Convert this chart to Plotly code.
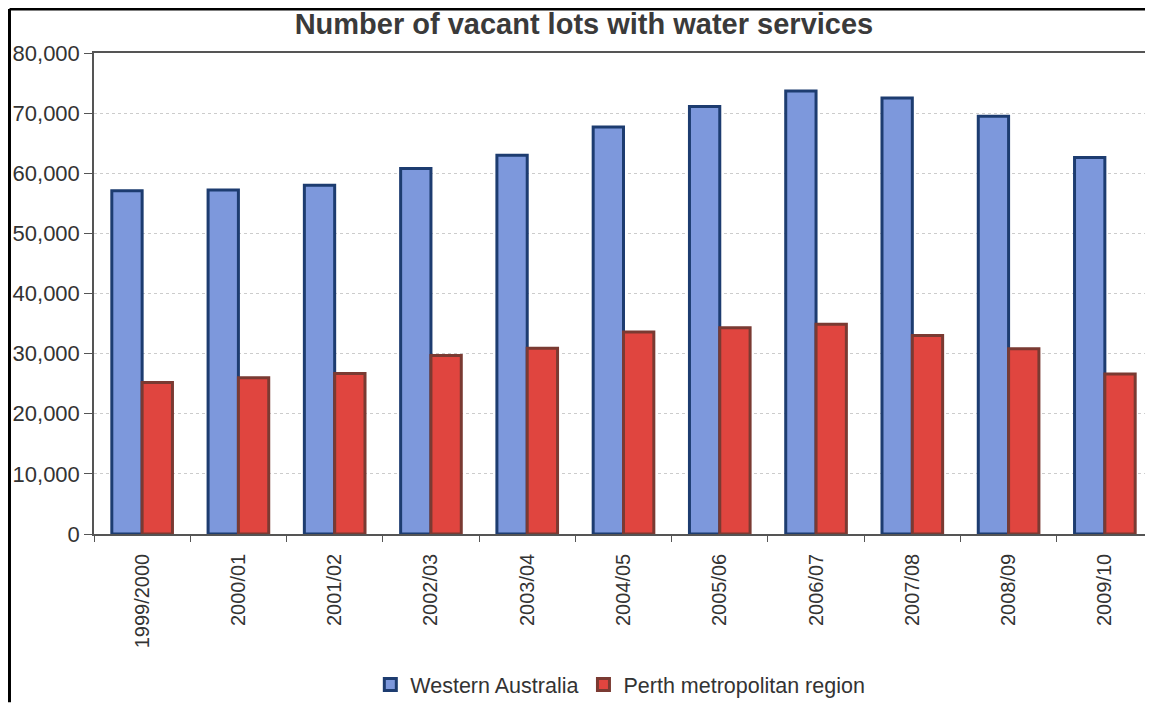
import plotly.graph_objects as go

categories = ["1999/2000", "2000/01", "2001/02", "2002/03", "2003/04", "2004/05",
              "2005/06", "2006/07", "2007/08", "2008/09", "2009/10"]
western_australia = [57100, 57200, 58000, 60800, 63000, 67700, 71100, 73700, 72500, 69500, 62600]
perth_metro = [25200, 26000, 26700, 29700, 30900, 33600, 34300, 34900, 33000, 30800, 26600]
y_ticks = [0, 10000, 20000, 30000, 40000, 50000, 60000, 70000, 80000]

FONT = "Liberation Sans, Arial, sans-serif"

fig = go.Figure()
fig.add_trace(go.Bar(
    x=categories, y=western_australia, name="Western Australia",
    marker=dict(color="#7d98dc", line=dict(color="#1d3c70", width=3)),
))
fig.add_trace(go.Bar(
    x=categories, y=perth_metro, name="Perth metropolitan region",
    marker=dict(color="#e0453f", line=dict(color="#7a3a32", width=3)),
))

fig.update_layout(
    width=1145, height=697,
    margin=dict(l=86, r=0, t=45, b=164),
    paper_bgcolor="white", plot_bgcolor="white",
    barmode="group", bargap=0.37, bargroupgap=0,
    font=dict(family=FONT, color="#333333"),
    title=dict(text="<b>Number of vacant lots with water services</b>",
               x=0.503, xanchor="center", y=0.977, yanchor="middle",
               font=dict(size=29, color="#3a3a3a", family=FONT)),
    legend=dict(orientation="h", x=0.497, xanchor="center", y=-0.313, yanchor="middle",
                font=dict(size=21.5, color="#333333"), itemwidth=30,
                bgcolor="rgba(0,0,0,0)"),
    showlegend=True,
)

fig.update_xaxes(
    showline=True, linecolor="#555555", linewidth=1.5, mirror=True,
    ticks="outside", ticklen=6, tickcolor="#555555", tickson="boundaries",
    tickangle=-90, tickfont=dict(size=20, color="#333333"),
    showgrid=False, ticklabelstandoff=10,
)
fig.update_yaxes(
    range=[0, 80000], tickvals=y_ticks, tickformat=",",
    showline=True, linecolor="#555555", linewidth=1.5,
    ticks="outside", ticklen=8, tickcolor="#555555",
    tickfont=dict(size=22, color="#333333"),
    showgrid=True, gridcolor="#cccccc", griddash="dot", gridwidth=1,
    zeroline=False,
)

# outer frame (top and left edges visible)
fig.add_shape(type="line", xref="paper", yref="paper",
              x0=-0.0798, x1=1.01, y0=1.0915, y1=1.0915,
              line=dict(color="black", width=3))
fig.add_shape(type="line", xref="paper", yref="paper",
              x0=-0.0798, x1=-0.0798, y0=1.0915, y1=-0.35,
              line=dict(color="black", width=3))

fig.write_html("out.html")
